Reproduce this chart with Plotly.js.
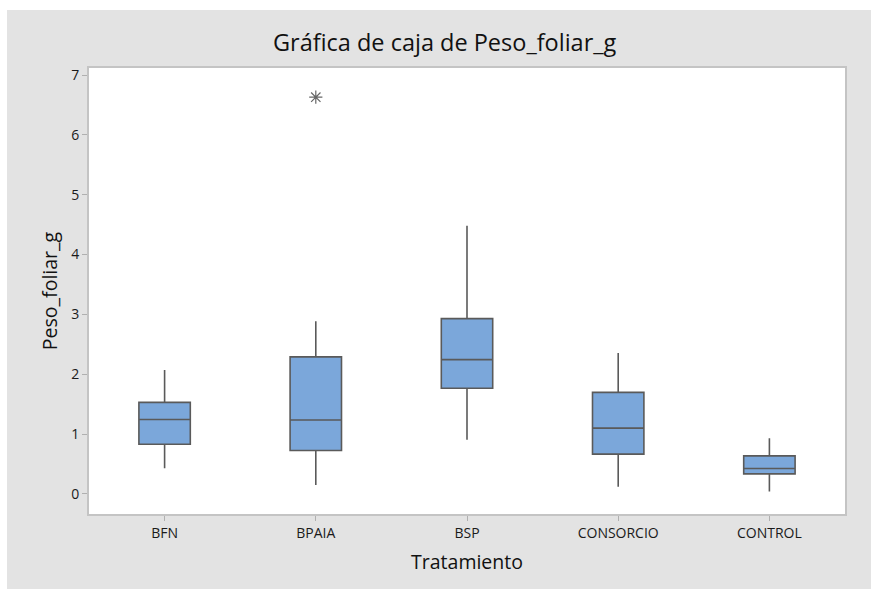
<!DOCTYPE html>
<html>
<head>
<meta charset="utf-8">
<script src="https://cdn.plot.ly/plotly-3.0.1.min.js"></script>
<style>html,body{margin:0;padding:0;background:#fff;}#chart{width:871px;height:589px;}</style>
</head>
<body>
<div id="chart"></div>
<script>
const categories = ["BFN", "BPAIA", "BSP", "CONSORCIO", "CONTROL"];
const lowerWhisker = [0.43, 0.15, 0.905, 0.12, 0.04];
const q1Values = [0.83, 0.725, 1.765, 0.665, 0.335];
const medianValues = [1.245, 1.235, 2.245, 1.10, 0.424];
const q3Values = [1.53, 2.29, 2.93, 1.697, 0.636];
const upperWhisker = [2.07, 2.886, 4.48, 2.357, 0.93];
const outlierCategories = ["BPAIA"];
const outlierValues = [6.63];
const yTicks = [0, 1, 2, 3, 4, 5, 6, 7];

const boxTrace = {
  type: 'box',
  x: categories,
  q1: q1Values,
  median: medianValues,
  q3: q3Values,
  lowerfence: lowerWhisker,
  upperfence: upperWhisker,
  fillcolor: '#7ba7da',
  line: {color: '#5a5a5a', width: 1.6},
  whiskerwidth: 0,
  width: 0.34,
  boxpoints: false,
  hoverinfo: 'skip',
  showlegend: false
};
const outlierTrace = {
  type: 'scatter',
  mode: 'markers',
  x: outlierCategories,
  y: outlierValues,
  marker: {symbol: 'asterisk-open', size: 11, color: '#666', line: {color: '#666', width: 1.2}},
  hoverinfo: 'skip',
  showlegend: false
};

const W = 756, H = 446;
const layout = {
  width: 871, height: 589,
  margin: {l: 89, r: 26, t: 68, b: 75},
  paper_bgcolor: '#e3e3e3',
  plot_bgcolor: '#ffffff',
  font: {family: 'Open Sans, sans-serif', color: '#222'},
  title: {text: 'Gráfica de caja de Peso_foliar_g', font: {size: 23.5, color: '#111'}, x: 0.5105, xanchor: 'center', y: 0.928, yanchor: 'middle'},
  xaxis: {
    type: 'category',
    categoryorder: 'array', categoryarray: categories,
    range: [-0.5, 4.5],
    showline: true, mirror: true, linecolor: '#c4c4c4', linewidth: 2,
    ticks: 'outside', ticklen: 5, tickcolor: '#b0b0b0', tickwidth: 1,
    tickfont: {size: 14, color: '#1a1a1a'},
    showgrid: false, zeroline: false,
    title: {text: 'Tratamiento', font: {size: 19.5, color: '#111'}, standoff: 15}
  },
  yaxis: {
    range: [-0.335, 7.117],
    tickvals: yTicks,
    showline: true, mirror: true, linecolor: '#c4c4c4', linewidth: 2,
    ticks: 'outside', ticklen: 5, tickcolor: '#b0b0b0', tickwidth: 1,
    tickfont: {size: 14, color: '#1a1a1a'},
    showgrid: false, zeroline: false,
    title: {text: 'Peso_foliar_g', font: {size: 19.5, color: '#111'}, standoff: 8}
  },
  shapes: [
    {type: 'rect', xref: 'paper', yref: 'paper', x0: -89/W, x1: 782/W, y0: 1 + 58/H, y1: 1 + 68/H, fillcolor: '#ffffff', line: {width: 0}, layer: 'below'},
    {type: 'rect', xref: 'paper', yref: 'paper', x0: -89/W, x1: -82/W, y0: -75/H, y1: 1 + 68/H, fillcolor: '#ffffff', line: {width: 0}, layer: 'below'}
  ]
};
Plotly.newPlot('chart', [boxTrace, outlierTrace], layout, {displayModeBar: false, staticPlot: true});
</script>
</body>
</html>
